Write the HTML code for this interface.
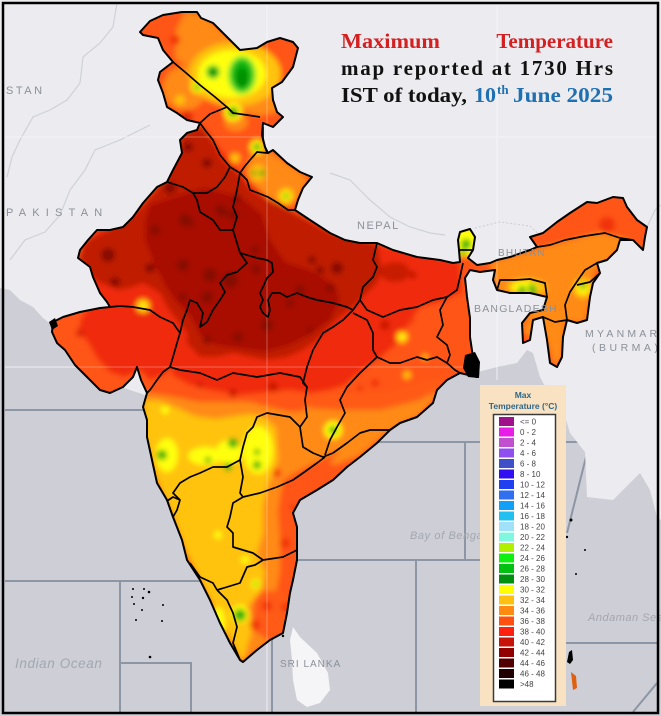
<!DOCTYPE html>
<html><head><meta charset="utf-8"><style>
html,body{margin:0;padding:0;background:#fff;}
svg{display:block;}
</style></head><body>
<svg width="661" height="716" viewBox="0 0 661 716" xmlns="http://www.w3.org/2000/svg" font-family="Liberation Sans, sans-serif">
<defs>
<clipPath id="ind"><path id="indp" d="M140,32 L150,21 L163,15 L182,12 L197,12 L201,18 L213,23 L227,37 L240,50 L257,48 L267,42 L280,38 L293,42 L298,48 L293,67 L282,82 L272,88 L273,100 L277,112 L283,117 L273,127 L263,123 L262,135 L265,147 L268,153 L273,150 L287,163 L300,172 L312,177 L303,188 L298,200 L295,210 L310,220 L330,233 L345,240 L360,243 L377,243 L393,250 L417,257 L440,260 L453,263 L460,262 L459,250 L458,240 L460,232 L470,229 L475,237 L473,250 L468,258 L477,265 L490,263 L497,260 L510,257 L530,250 L537,247 L530,237 L543,233 L557,222 L570,213 L587,202 L597,203 L613,197 L623,198 L627,207 L637,220 L647,227 L645,237 L643,250 L633,240 L620,240 L617,250 L607,260 L597,263 L600,273 L593,283 L590,297 L587,320 L577,323 L567,320 L563,337 L562,357 L557,367 L550,363 L547,340 L543,317 L533,320 L530,340 L523,343 L522,323 L530,313 L543,310 L547,297 L530,293 L510,293 L497,290 L493,280 L495,270 L480,272 L470,270 L465,278 L467,297 L470,318 L470,337 L473,357 L477,377 L460,373 L447,380 L437,390 L433,403 L417,417 L400,423 L390,430 L377,443 L360,457 L347,467 L333,480 L317,490 L300,500 L293,513 L297,527 L297,560 L293,580 L290,593 L287,613 L283,633 L270,640 L257,650 L243,662 L240,660 L230,643 L220,623 L210,600 L200,580 L187,560 L182,540 L173,517 L167,500 L157,483 L152,460 L147,437 L147,420 L143,407 L147,393 L141,380 L137,367 L133,377 L123,387 L110,393 L100,390 L87,377 L75,365 L65,350 L57,343 L52,332 L53,322 L63,317 L80,312 L100,308 L110,307 L107,302 L100,293 L93,277 L90,267 L78,258 L80,250 L88,240 L97,230 L110,230 L123,227 L133,217 L143,203 L157,187 L167,182 L173,170 L182,153 L180,140 L187,133 L197,130 L200,123 L187,120 L177,113 L167,107 L163,93 L158,80 L160,72 L173,62 L163,50 L158,38 L143,35 Z"/></clipPath>
<filter id="bl" filterUnits="userSpaceOnUse" x="0" y="0" width="661" height="716"><feGaussianBlur stdDeviation="2.6"/></filter>
</defs>

<rect x="0" y="0" width="661" height="716" fill="#cdced6"/>
<g stroke="#8d96a4" stroke-width="2" fill="none">
<path d="M5,410 H150"/>
<path d="M5,581 H200 M120,581 V713 M120,663 H191 V713"/>
<path d="M272,638 V713"/>
<path d="M290,560 H480 M416,560 V713"/>
<path d="M370,442 H590 M465,442 V560"/>
<path d="M587,453 L567,533"/>
<path d="M566,643 H658"/>
<path d="M633,712 L657,683"/>
</g>
<path d="M0,0 H661 V520 L657,517 L650,490 L640,473 L613,500 L587,497 L585,452 L570,433 L563,410 L555,400 L547,390 L540,377 L533,353 L527,350 L517,363 L497,367 L478,372 L440,370 L300,450 L250,600 L200,500 L160,400 L100,380 L65,340 L52,325 L43,318 L33,307 L20,300 L10,290 L0,288 Z" fill="#ececf0"/>
<path d="M293,627 L300,637 L317,653 L328,673 L330,690 L320,703 L307,707 L297,700 L293,680 L292,660 L290,640 Z" fill="#f5f5f7"/>
<g stroke="#cfd1d8" stroke-width="1.2" fill="none">
<path d="M117,3 L113,27 L100,43 L83,57 L80,83 L67,100 L50,110 L33,117 L20,140 L12,157 L7,177"/>
<path d="M10,260 L25,240 L45,232 L60,215 L70,190 L85,170 L95,150 L120,140 L150,125"/>
<path d="M330,173 L350,180 L370,200 L390,217 L410,227 L430,233 L445,235"/>
<path d="M475,228 L500,222 L530,226 L545,240" stroke-dasharray="2,2"/>
<path d="M647,227 L655,210 L661,205"/>
</g>
<g stroke="#f7f7fa" stroke-width="1" opacity="0.8">
<path d="M267,5 V712 M497,5 V380 M5,137 H656 M5,367 H480"/>
</g>

<g clip-path="url(#ind)">
<g filter="url(#bl)">
<rect x="0" y="0" width="661" height="716" fill="#ff5412"/>
<path d="M185,12 L205,15 L230,40 L260,50 L268,70 L280,88 L278,112 L258,116 L238,110 L215,95 L195,72 L175,58 L176,30 Z" fill="#ff8a14"/>
<ellipse cx="185" cy="88" rx="22" ry="22" fill="#ff8a14"/>
<path d="M250,155 L270,152 L300,172 L308,180 L300,195 L290,207 L270,200 L252,190 L246,170 Z" fill="#ff8a14"/>
<ellipse cx="236" cy="122" rx="12" ry="9" fill="#ff8a14"/>
<ellipse cx="235" cy="74" rx="46" ry="32" fill="#ffc210"/>
<ellipse cx="232" cy="74" rx="34" ry="24" fill="#ffff10"/>
<ellipse cx="242" cy="75" rx="14" ry="19" fill="#55e030"/>
<ellipse cx="242" cy="75" rx="10" ry="15" fill="#10b010"/>
<ellipse cx="242" cy="78" rx="6" ry="10" fill="#009000"/>
<circle cx="213" cy="72" r="7" fill="#55e030"/><circle cx="213" cy="72" r="5" fill="#009000"/>
<circle cx="197" cy="87" r="6" fill="#ffff10"/><circle cx="197" cy="87" r="3" fill="#10b010"/>
<circle cx="180" cy="100" r="5" fill="#ffc210"/>
<circle cx="233" cy="112" r="9" fill="#ffff10"/><circle cx="233" cy="112" r="5" fill="#10a010"/>
<circle cx="175" cy="40" r="5" fill="#f03010"/>
<circle cx="187" cy="117" r="6" fill="#e02808"/>
<circle cx="257" cy="147" r="7" fill="#ffff10"/><circle cx="257" cy="147" r="3.5" fill="#10a010"/>
<circle cx="235" cy="158" r="5" fill="#ffc210"/>
<circle cx="258" cy="173" r="8" fill="#ffc210"/><circle cx="254" cy="173" r="2.5" fill="#10a010"/><circle cx="262" cy="173" r="3" fill="#10a010"/>
<circle cx="286" cy="196" r="8" fill="#ffc210"/><circle cx="286" cy="196" r="5" fill="#ffff10"/><circle cx="286" cy="196" r="2.5" fill="#10a010"/>
<path d="M80,245 L100,228 L140,205 L165,180 L180,135 L200,125 L240,172 L270,200 L300,215 L340,235 L380,245 L460,262 L462,292 L440,302 L420,307 L410,322 L395,345 L380,358 L360,372 L345,385 L330,390 L310,393 L290,390 L260,393 L240,395 L210,390 L190,385 L172,375 L170,345 L150,312 L100,302 L85,275 Z" fill="#f02a0a"/>
<path d="M90,306 L110,304 L135,307 L152,310 L175,325 L180,342 L176,360 L165,375 L150,380 L140,370 L125,377 L110,372 L97,358 L88,342 L78,332 L82,316 Z" fill="#f02a0a"/>
<circle cx="80" cy="333" r="4" fill="#d82008"/>
<circle cx="143" cy="306" r="7" fill="#ffc210"/><circle cx="143" cy="306" r="3" fill="#ffff10"/>
<path d="M78,258 L88,240 L110,230 L133,217 L157,187 L167,178 L180,150 L180,138 L195,128 L203,127 L213,140 L220,157 L230,167 L240,175 L250,190 L290,210 L330,233 L377,243 L382,270 L377,283 L363,297 L353,307 L340,317 L330,327 L317,340 L303,350 L287,357 L267,360 L250,357 L233,353 L217,357 L200,357 L187,343 L187,333 L177,320 L167,307 L160,293 L143,283 L133,287 L120,290 L100,283 L90,275 Z" fill="#c01a04"/>
<ellipse cx="395" cy="272" rx="15" ry="10" fill="#c81c04"/>
<path d="M150,205 L180,195 L205,188 L225,193 L245,200 L262,215 L270,240 L285,262 L310,270 L335,285 L340,300 L330,320 L310,335 L290,345 L265,352 L235,348 L215,345 L200,335 L190,315 L175,300 L165,285 L155,265 L145,240 L145,220 Z" fill="#a81000"/>
<g fill="#850800">
<circle cx="155" cy="230" r="5"/><circle cx="190" cy="223" r="4"/><circle cx="223" cy="212" r="5"/><circle cx="108" cy="255" r="7"/>
<circle cx="150" cy="268" r="5"/><circle cx="183" cy="265" r="6"/><circle cx="115" cy="282" r="5"/><circle cx="207" cy="297" r="6"/>
<circle cx="183" cy="297" r="4"/><circle cx="238" cy="337" r="5"/><circle cx="207" cy="340" r="4"/><circle cx="267" cy="325" r="6"/>
<circle cx="257" cy="270" r="4"/><circle cx="312" cy="260" r="4"/><circle cx="320" cy="270" r="4"/><circle cx="337" cy="268" r="6"/>
<circle cx="330" cy="288" r="4"/><circle cx="300" cy="290" r="5"/><circle cx="290" cy="303" r="4"/><circle cx="310" cy="330" r="3"/>
<circle cx="188" cy="147" r="5"/><circle cx="207" cy="163" r="5"/><circle cx="170" cy="188" r="6"/><circle cx="220" cy="210" r="5"/>
<circle cx="237" cy="198" r="4"/><circle cx="255" cy="250" r="4"/><circle cx="255" cy="268" r="4"/><circle cx="230" cy="280" r="8"/>
<circle cx="210" cy="275" r="7"/><circle cx="185" cy="220" r="6"/><circle cx="233" cy="215" r="5"/>
</g>
<g fill="#c81806">
<circle cx="273" cy="387" r="5"/><circle cx="233" cy="393" r="4"/><circle cx="200" cy="385" r="3"/><circle cx="413" cy="275" r="4"/><circle cx="385" cy="325" r="5"/>
</g>
<g fill="#f03010">
<circle cx="410" cy="320" r="4"/><circle cx="375" cy="383" r="4"/><circle cx="360" cy="388" r="3"/><circle cx="607" cy="225" r="8"/>
</g>
<path d="M140,392 L170,396 L200,402 L250,402 L290,412 L320,410 L345,415 L345,445 L330,460 L310,470 L300,490 L290,505 L285,530 L290,560 L285,590 L280,620 L270,640 L250,655 L240,662 L200,580 L150,430 Z" fill="#ff8a14"/>
<path d="M310,398 L340,392 L370,397 L400,397 L430,395 L442,388 L420,415 L390,430 L360,455 L335,465 L320,460 L305,450 L300,420 Z" fill="#ff8a14"/>
<path d="M300,398 L330,392 L360,392 L390,390 L420,380 L440,376 L445,385 L420,400 L380,410 L340,410 L310,408 Z" fill="#ff5a12"/>
<path d="M283,480 L300,470 L320,460 L340,450 L300,500 L297,560 L290,600 L282,640 L272,632 L275,600 L280,570 L280,540 L278,510 Z" fill="#ff5412"/>
<path d="M255,592 L285,590 L288,630 L268,640 L252,630 Z" fill="#ff5a12"/>
<path d="M143,400 L160,401 L180,409 L195,416 L215,419 L235,416 L250,414 L264,417 L276,428 L278,460 L273,473 L267,487 L263,507 L263,533 L257,553 L265,573 L260,593 L247,607 L253,627 L247,647 L243,662 L225,630 L200,580 L185,550 L170,510 L155,475 L145,440 Z" fill="#ffc210"/>
<g fill="#ffff10">
<ellipse cx="167" cy="455" rx="11" ry="17"/><ellipse cx="205" cy="456" rx="17" ry="9"/><ellipse cx="229" cy="452" rx="13" ry="12"/>
<ellipse cx="258" cy="450" rx="15" ry="24"/><circle cx="218" cy="535" r="4"/><circle cx="245" cy="560" r="4"/>
<ellipse cx="218" cy="622" rx="7" ry="15"/><circle cx="240" cy="614" r="9"/><circle cx="333" cy="430" r="9"/>
<circle cx="256" cy="584" r="5"/><circle cx="165" cy="410" r="4"/><circle cx="402" cy="337" r="3"/>
</g>
<g fill="#ffc210"><circle cx="402" cy="337" r="6"/><circle cx="407" cy="375" r="4"/><circle cx="425" cy="357" r="3"/></g>
<g fill="#ffff10"><circle cx="402" cy="337" r="3"/></g>
<g fill="#10b010">
<circle cx="162" cy="455" r="5"/><circle cx="233" cy="443" r="5"/><circle cx="228" cy="467" r="4"/><circle cx="208" cy="460" r="3"/>
<circle cx="257" cy="452" r="3"/><circle cx="257" cy="465" r="4"/><circle cx="333" cy="430" r="4"/><circle cx="240" cy="615" r="6"/>
<circle cx="256" cy="584" r="2"/>
</g>
<g fill="#f03010"><circle cx="267" cy="606" r="5"/><circle cx="255" cy="625" r="5"/><circle cx="285" cy="607" r="4"/><circle cx="285" cy="543" r="5"/><circle cx="293" cy="507" r="3"/><circle cx="277" cy="473" r="4"/></g>
<path d="M490,262 L540,248 L600,232 L630,240 L610,260 L595,270 L590,300 L585,322 L565,322 L562,357 L555,368 L547,340 L535,343 L522,330 L530,313 L500,295 L492,280 Z" fill="#ff8a14"/>
<ellipse cx="527" cy="287" rx="20" ry="8" fill="#ffc210"/>
<ellipse cx="525" cy="287" rx="13" ry="6" fill="#ffff10"/>
<circle cx="522" cy="290" r="4" fill="#10b010"/><circle cx="532" cy="288" r="4" fill="#10b010"/><circle cx="534" cy="293" r="3" fill="#10b010"/>
<circle cx="583" cy="288" r="10" fill="#ffc210"/><circle cx="583" cy="288" r="6" fill="#ffff10"/><circle cx="583" cy="286" r="3" fill="#10a010"/>
<path d="M455,228 L478,228 L478,256 L455,256 Z" fill="#ffff10"/>
<circle cx="466" cy="244" r="5" fill="#10b010"/><circle cx="463" cy="252" r="3" fill="#10b010"/>
</g>
</g>
<g stroke="#ffffff" stroke-width="1" opacity="0.3" clip-path="url(#ind)">
<path d="M267,5 V712 M497,5 V380 M5,137 H656 M5,367 H480"/>
</g>
<use href="#indp" fill="none" stroke="#000" stroke-width="2" stroke-linejoin="round"/>
<g fill="none" stroke="#000" stroke-width="1.7" stroke-linejoin="round">
<path d="M173,62 L185,72 L200,85 L215,97 L228,108 L233,113 L247,115 L260,117"/>
<path d="M200,123 L210,114 L227,107 L233,113"/>
<path d="M200,123 L205,130 L213,140 L220,155 L230,167 L240,173"/>
<path d="M263,127 L263,140 L267,153 L257,152 L250,160 L245,166 L240,173"/>
<path d="M240,173 L247,180 L250,190 L258,193 L268,197 L278,203 L288,210 L296,210"/>
<path d="M167,182 L183,187 L193,193 L207,193 L217,187 L225,177 L230,167"/>
<path d="M193,193 L197,200 L200,212 L213,220 L220,230 L233,230"/>
<path d="M240,173 L237,190 L233,207 L237,217 L233,230 L237,243 L240,253"/>
<path d="M240,253 L257,258 L267,260 L272,263 L273,272 L267,278 L263,287 L260,293 L263,300 L260,307 L263,313 L268,317 L270,310 L268,300 L272,293 L280,293 L287,297 L297,293 L307,297 L317,300 L333,303 L347,307 L353,310 L360,300"/>
<path d="M240,253 L247,263 L237,272 L227,275 L220,283 L225,292 L220,300 L213,310 L207,322 L200,327 L203,313 L197,303 L190,300 L187,310 L183,320 L180,333"/>
<path d="M110,307 L120,306 L133,307 L150,310 L160,317 L173,323 L180,333 L177,343 L173,357 L170,367 L163,372 L157,380 L150,390 L147,393"/>
<path d="M170,367 L180,370 L200,373 L217,380 L233,373 L257,377 L280,373 L300,377 L307,387"/>
<path d="M353,310 L343,320 L333,327 L323,333 L313,350 L307,367 L303,383 L307,387 L305,400 L307,417 L300,427"/>
<path d="M300,427 L290,417 L267,413 L257,417 L253,427 L247,433 L243,447 L240,460 L243,477 L240,493 L243,497"/>
<path d="M240,460 L227,467 L213,467 L200,473 L190,477 L180,483 L173,493 L180,500 L177,510 L173,517"/>
<path d="M167,501 L173,497 L180,500"/>
<path d="M300,427 L303,447 L313,453 L323,457 L333,453"/>
<path d="M243,497 L260,493 L277,487 L293,480 L303,473 L317,463 L325,457"/>
<path d="M333,453 L347,443 L360,433 L370,430 L390,430"/>
<path d="M377,357 L360,373 L347,387 L340,400 L345,413 L337,427 L330,440 L325,455"/>
<path d="M243,497 L233,503 L230,517 L227,527 L233,533 L233,547 L253,553 L263,560"/>
<path d="M263,560 L255,565 L247,567 L240,583 L227,587 L217,590"/>
<path d="M190,563 L200,577 L213,583 L217,590"/>
<path d="M217,590 L227,600 L233,613 L237,627 L233,643 L240,660"/>
<path d="M263,560 L283,557 L297,550"/>
<path d="M360,300 L363,287 L373,277 L377,267 L373,260 L377,243"/>
<path d="M360,300 L367,310 L383,317 L400,310 L417,307 L433,300 L447,297 L457,290 L460,277 L463,263"/>
<path d="M447,297 L440,310 L443,325 L437,337 L447,345 L450,355 L447,363"/>
<path d="M353,313 L367,320 L373,333 L373,350 L377,357"/>
<path d="M377,357 L390,363 L400,363 L417,357 L427,360 L437,357 L447,363 L455,370 L460,373"/>
<path d="M537,247 L550,245 L565,240 L585,236 L605,233 L620,238 L633,240"/>
<path d="M607,260 L597,263 L585,270 L578,280 L570,292 L565,305 L567,320"/>
<path d="M577,285 L590,282 L600,273"/>
<path d="M543,317 L555,322 L567,320"/>
<path d="M497,290 L500,280 L515,280 L530,279 L545,283 L547,297"/>
<path d="M459,250 L473,250"/>
</g>
<path d="M465,355 L475,352 L480,362 L479,378 L468,377 L463,368 Z" fill="#000"/>
<path d="M49,322 L55,318 L58,326 L52,330 Z" fill="#000"/>
<g fill="#000">
<circle cx="133" cy="589" r="1"/><circle cx="144" cy="589" r="1"/><circle cx="149" cy="592" r="1.3"/><circle cx="132" cy="597" r="1"/>
<circle cx="143" cy="598" r="1.2"/><circle cx="134" cy="604" r="1"/><circle cx="142" cy="610" r="1"/><circle cx="163" cy="605" r="1"/>
<circle cx="136" cy="620" r="1"/><circle cx="162" cy="621" r="1"/><circle cx="150" cy="657" r="1.3"/><circle cx="283" cy="636" r="1.2"/>
<circle cx="571" cy="520" r="1.5"/><circle cx="567" cy="537" r="1.2"/><circle cx="585" cy="550" r="1"/><circle cx="576" cy="574" r="1"/>
<path d="M569,652 L572,650 L573,660 L570,664 L567,662 Z"/><path d="M571,672 L576,676 L577,688 L573,690 Z" fill="#e06010"/>
</g>

<g fill="#8b9099" font-size="11">
<text x="6" y="94" letter-spacing="2.5">STAN</text>
<text x="6" y="216" letter-spacing="6.2">PAKISTAN</text>
<text x="357" y="229" letter-spacing="1.5">NEPAL</text>
<text x="498" y="256" letter-spacing="1.2" font-size="10">BHUTAN</text>
<text x="474" y="312" letter-spacing="1.2" font-size="10.5">BANGLADESH</text>
<text x="585" y="337" letter-spacing="3.2" font-size="10.5">MYANMAR</text>
<text x="592" y="351" letter-spacing="3.5" font-size="10.5">(BURMA)</text>
<text x="280" y="667" letter-spacing="1" font-size="10">SRI LANKA</text>
</g>
<g fill="#a3a7b0" font-style="italic">
<text x="15" y="668" font-size="13.5" letter-spacing="0.6">Indian Ocean</text>
<text x="410" y="539" font-size="11" letter-spacing="0.6">Bay of Bengal</text>
<text x="588" y="621" font-size="11" letter-spacing="0.5">Andaman Sea</text>
</g>

<g font-family="Liberation Serif, serif" font-weight="bold" font-size="21">
<text x="341" y="48" fill="#d42020" textLength="99" lengthAdjust="spacingAndGlyphs">Maximum</text>
<text x="613" y="48" fill="#d42020" text-anchor="end">Temperature</text>
<text x="341" y="75" fill="#111" textLength="272" lengthAdjust="spacing">map reported at 1730 Hrs</text>
<text x="341" y="102" fill="#111" textLength="126" lengthAdjust="spacingAndGlyphs">IST of today,</text>
<text x="474" y="102" fill="#1e70b0" textLength="22" lengthAdjust="spacingAndGlyphs">10</text>
<text x="497" y="94" fill="#1e70b0" font-size="13">th</text>
<text x="513" y="102" fill="#1e70b0" textLength="100" lengthAdjust="spacingAndGlyphs">June 2025</text>
</g>

<rect x="480" y="385" width="86" height="321" fill="#f8e2c2"/>
<text x="523" y="398" text-anchor="middle" font-size="8.5" font-weight="bold" fill="#2f6788">Max</text>
<text x="523" y="409" text-anchor="middle" font-size="8.5" font-weight="bold" fill="#2f6788">Temperature (°C)</text>
<rect x="493.5" y="414.5" width="62" height="287" fill="#fff" stroke="#3a3a3a" stroke-width="1.5"/>
<g font-size="8" fill="#444">
<rect x="499" y="417" width="15" height="9" fill="#a0108a"/><text x="520" y="424.5">&lt;= 0</text>
<rect x="499" y="427.5" width="15" height="9" fill="#e81ee8"/><text x="520" y="435">0 - 2</text>
<rect x="499" y="438" width="15" height="9" fill="#c050d0"/><text x="520" y="445.5">2 - 4</text>
<rect x="499" y="448.5" width="15" height="9" fill="#9050f0"/><text x="520" y="456">4 - 6</text>
<rect x="499" y="459" width="15" height="9" fill="#4050c8"/><text x="520" y="466.5">6 - 8</text>
<rect x="499" y="469.5" width="15" height="9" fill="#3010f0"/><text x="520" y="477">8 - 10</text>
<rect x="499" y="480" width="15" height="9" fill="#2040f0"/><text x="520" y="487.5">10 - 12</text>
<rect x="499" y="490.5" width="15" height="9" fill="#3070f0"/><text x="520" y="498">12 - 14</text>
<rect x="499" y="501" width="15" height="9" fill="#10a0f8"/><text x="520" y="508.5">14 - 16</text>
<rect x="499" y="511.5" width="15" height="9" fill="#20c0f0"/><text x="520" y="519">16 - 18</text>
<rect x="499" y="522" width="15" height="9" fill="#a0e0f8"/><text x="520" y="529.5">18 - 20</text>
<rect x="499" y="532.5" width="15" height="9" fill="#80f8e0"/><text x="520" y="540">20 - 22</text>
<rect x="499" y="543" width="15" height="9" fill="#b0f000"/><text x="520" y="550.5">22 - 24</text>
<rect x="499" y="553.5" width="15" height="9" fill="#10f010"/><text x="520" y="561">24 - 26</text>
<rect x="499" y="564" width="15" height="9" fill="#00c010"/><text x="520" y="571.5">26 - 28</text>
<rect x="499" y="574.5" width="15" height="9" fill="#009010"/><text x="520" y="582">28 - 30</text>
<rect x="499" y="585" width="15" height="9" fill="#ffff00"/><text x="520" y="592.5">30 - 32</text>
<rect x="499" y="595.5" width="15" height="9" fill="#ffc010"/><text x="520" y="603">32 - 34</text>
<rect x="499" y="606" width="15" height="9" fill="#ff8c10"/><text x="520" y="613.5">34 - 36</text>
<rect x="499" y="616.5" width="15" height="9" fill="#ff5010"/><text x="520" y="624">36 - 38</text>
<rect x="499" y="627" width="15" height="9" fill="#ff2010"/><text x="520" y="634.5">38 - 40</text>
<rect x="499" y="637.5" width="15" height="9" fill="#c81408"/><text x="520" y="645">40 - 42</text>
<rect x="499" y="648" width="15" height="9" fill="#900000"/><text x="520" y="655.5">42 - 44</text>
<rect x="499" y="658.5" width="15" height="9" fill="#500000"/><text x="520" y="666">44 - 46</text>
<rect x="499" y="669" width="15" height="9" fill="#200000"/><text x="520" y="676.5">46 - 48</text>
<rect x="499" y="679.5" width="15" height="9" fill="#000000"/><text x="520" y="687">&gt;48</text>
</g>

<rect x="3" y="3" width="655" height="710" fill="none" stroke="#000" stroke-width="2.5"/>
</svg>
</body></html>
